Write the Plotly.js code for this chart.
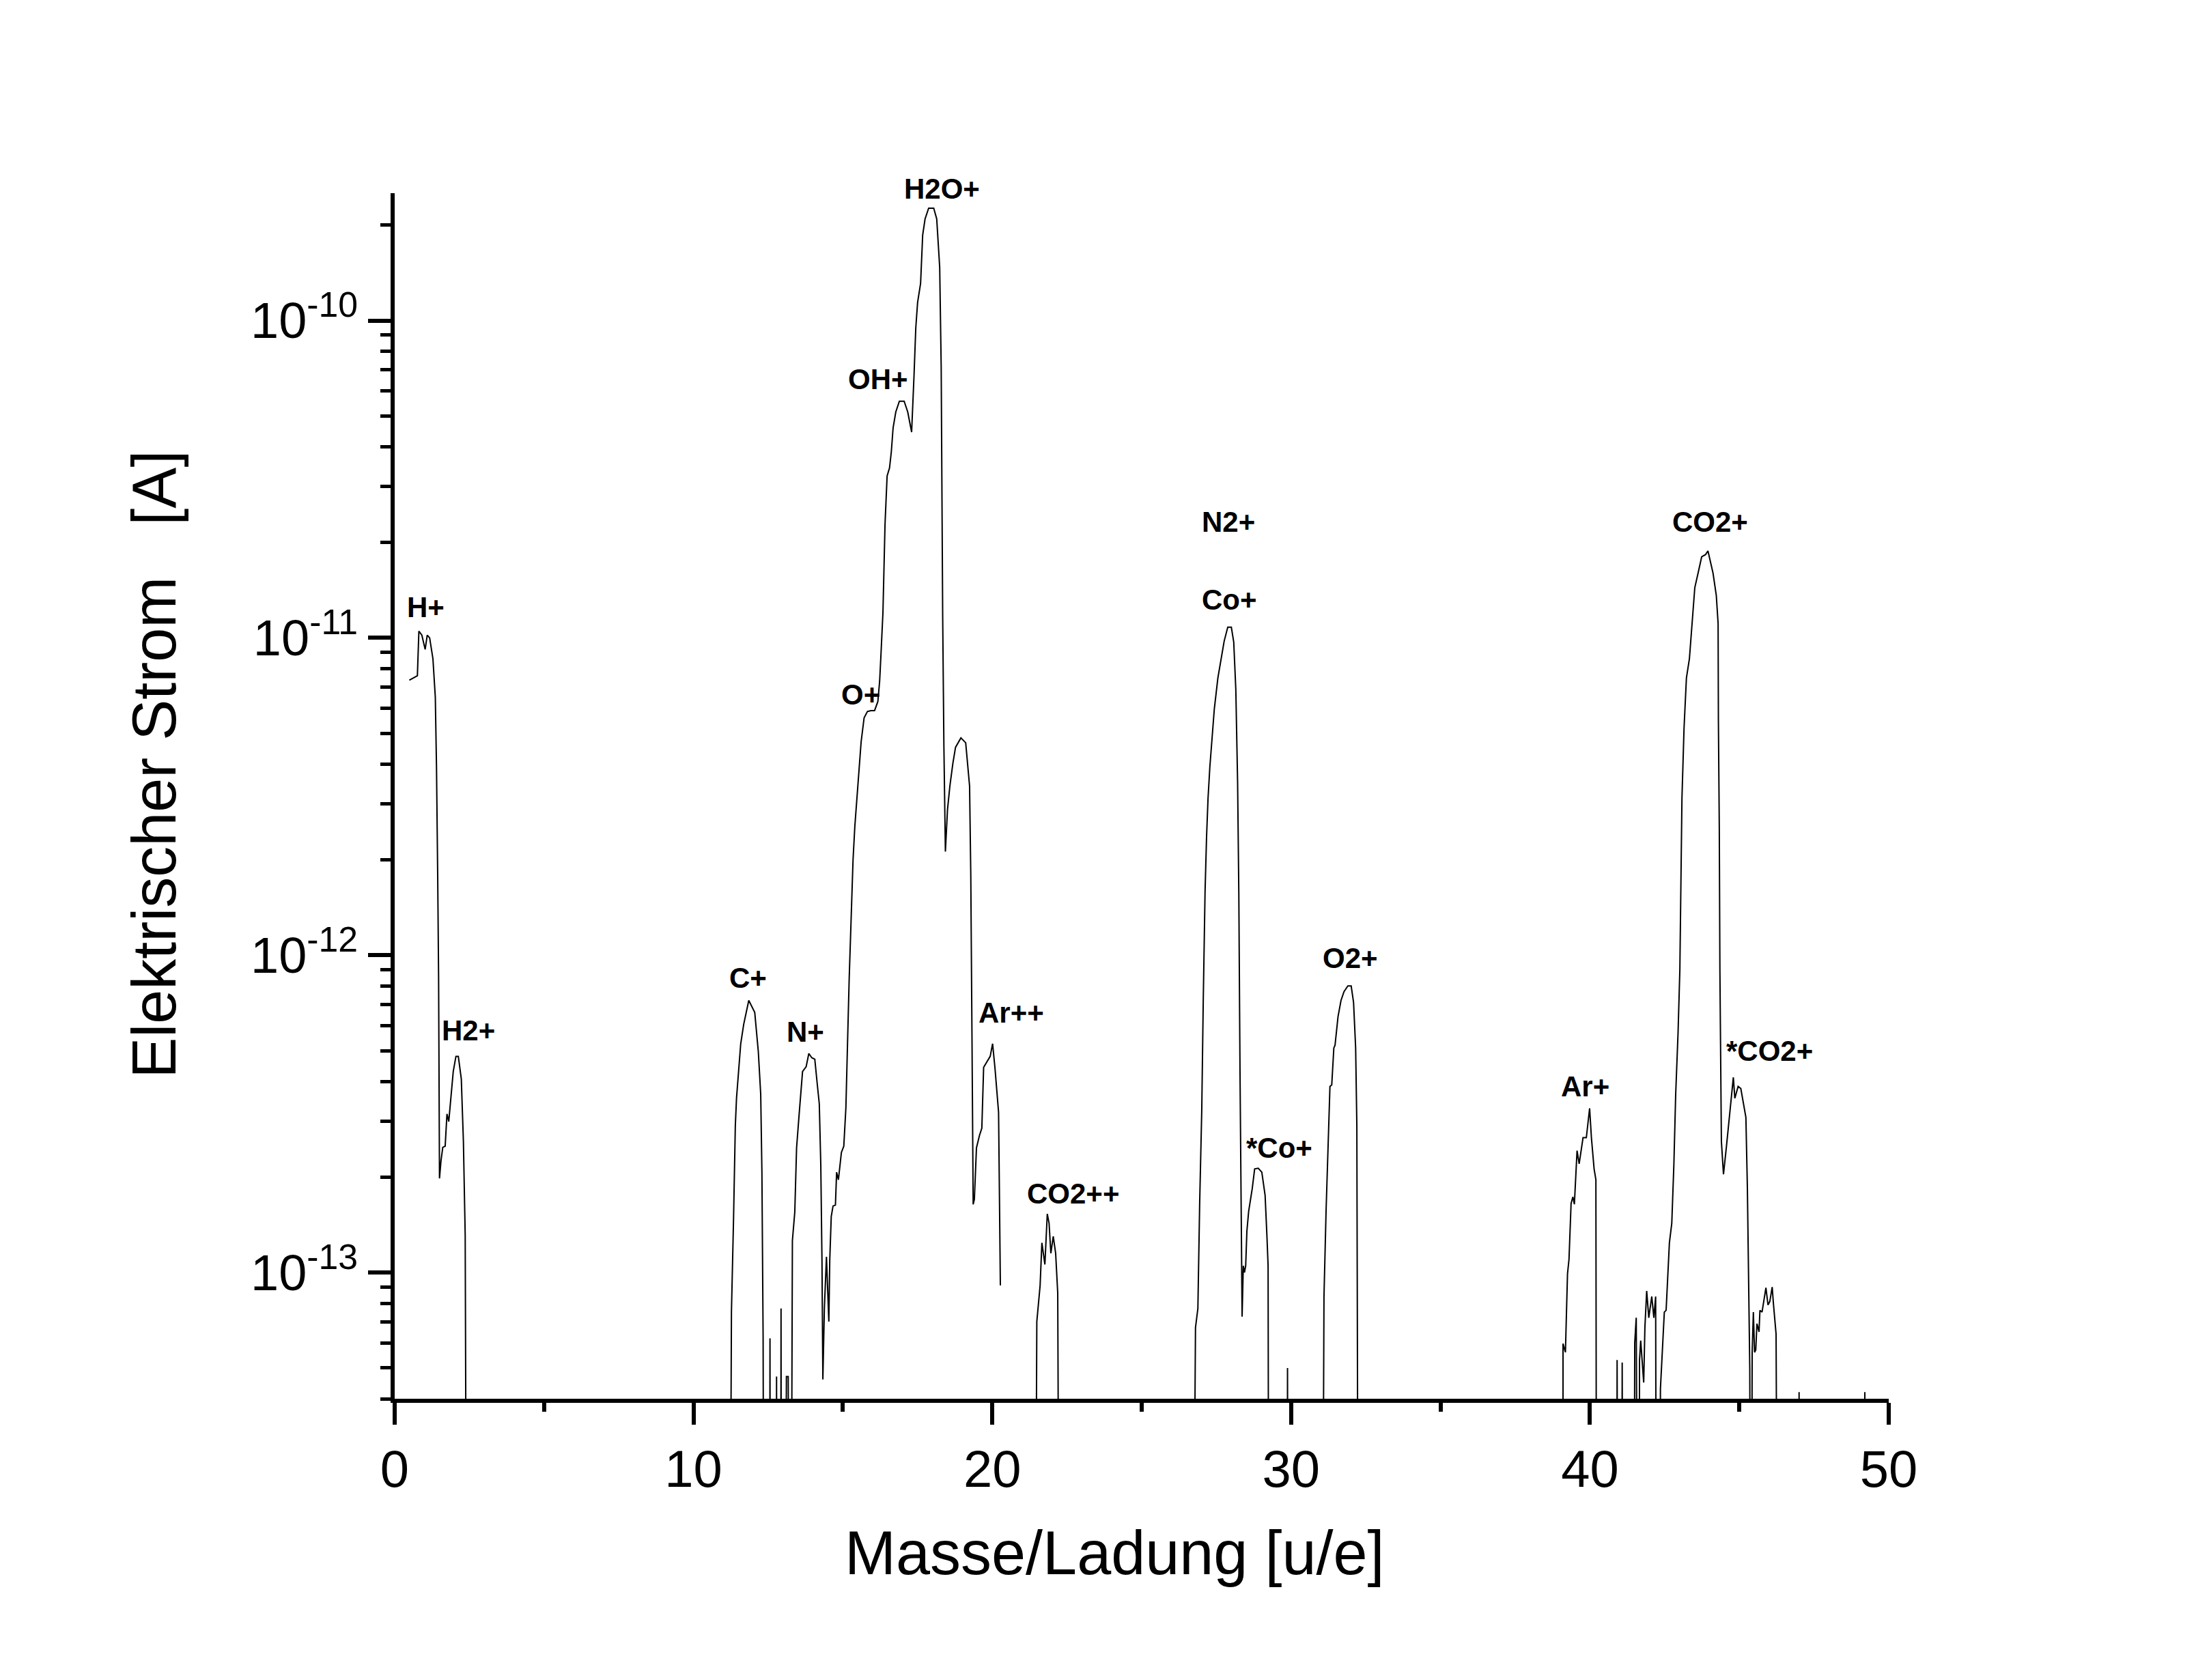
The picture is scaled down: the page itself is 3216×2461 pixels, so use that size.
<!DOCTYPE html>
<html>
<head>
<meta charset="utf-8">
<script src="https://cdn.plot.ly/plotly-3.0.1.min.js"></script>
<style>
  html, body { margin: 0; padding: 0; background: #fff; }
  #chart { width: 3216px; height: 2461px; }
</style>
</head>
<body>
<div id="chart"></div>
<script>
(function () {

	'use strict';

	// 1e-14 = below the detection floor (line drops off the bottom of the axis)

	// H+ / H2+
	const massH = [0.49, 0.64, 0.76, 0.81, 0.91, 1.02, 1.09, 1.17, 1.28, 1.36, 1.40, 1.44, 1.47, 1.50, 1.55, 1.61, 1.69, 1.75, 1.81, 1.96, 2.05, 2.13, 2.23, 2.30, 2.36, 2.40];
	const currH = [7.36e-12, 7.5e-12, 7.6e-12, 1.05e-11, 1.02e-11, 9.2e-12, 1.02e-11, 1.0e-11, 8.6e-12, 6.5e-12, 3.9e-12, 1.77e-12, 8.5e-13, 1.98e-13, 2.25e-13, 2.48e-13, 2.5e-13, 3.16e-13, 2.99e-13, 4.3e-13, 4.8e-13, 4.8e-13, 4.07e-13, 2.59e-13, 1.31e-13, 1e-14];

	// C+ and the small spikes after it
	const massC = [11.23, 11.27, 11.34, 11.40, 11.44, 11.58, 11.68, 11.85, 12.05, 12.17, 12.25, 12.29, 12.33, 12.35,
		12.55, 12.56, 12.57, 12.77, 12.78, 12.79, 12.92, 12.93, 12.94, 13.08, 13.11, 13.17, 13.20];
	const currC = [1e-14, 7.5e-14, 1.47e-13, 2.9e-13, 3.54e-13, 5.25e-13, 6.05e-13, 7.2e-13, 6.6e-13, 4.96e-13, 3.64e-13, 2.07e-13, 6.3e-14, 1e-14,
		1e-14, 6.2e-14, 1e-14, 1e-14, 4.7e-14, 1e-14, 1e-14, 7.7e-14, 1e-14, 1e-14, 4.7e-14, 4.7e-14, 1e-14];

	// N+ , O+ , OH+ , H2O+ , (H3O+) , Ar++
	const massWater = [13.27, 13.31, 13.39, 13.45, 13.53, 13.65, 13.77, 13.86, 13.96, 14.06, 14.14, 14.21, 14.26, 14.30, 14.33,
		14.38, 14.45, 14.49, 14.53, 14.56, 14.61, 14.67, 14.75, 14.79, 14.85, 14.95, 15.03, 15.10, 15.16, 15.21,
		15.28, 15.34, 15.40, 15.46, 15.55, 15.61, 15.71, 15.82, 15.94, 16.06, 16.17, 16.23, 16.27, 16.34, 16.41,
		16.48, 16.56, 16.62, 16.68, 16.77, 16.89, 17.05, 17.17, 17.30, 17.38, 17.44, 17.50, 17.60, 17.67, 17.75,
		17.87, 18.04, 18.14, 18.24, 18.29, 18.31, 18.34, 18.38, 18.43, 18.50, 18.58, 18.68, 18.77, 18.95, 19.11,
		19.24, 19.28, 19.32, 19.36, 19.40, 19.47, 19.57, 19.65, 19.71, 19.81, 19.93, 20.01, 20.09, 20.21, 20.25, 20.27];
	const currWater = [1e-14, 1.26e-13, 1.55e-13, 2.47e-13, 3.1e-13, 4.3e-13, 4.45e-13, 4.9e-13, 4.75e-13, 4.7e-13, 3.94e-13, 3.4e-13, 2.19e-13, 1.09e-13, 4.6e-14,
		7.7e-14, 1.12e-13, 8.6e-14, 7.0e-14, 1.09e-13, 1.5e-13, 1.62e-13, 1.63e-13, 2.07e-13, 1.96e-13, 2.39e-13, 2.5e-13, 3.3e-13, 5.6e-13, 8.4e-13,
		1.34e-12, 2.0e-12, 2.55e-12, 3.03e-12, 4.07e-12, 4.7e-12, 5.6e-12, 5.86e-12, 5.9e-12, 5.9e-12, 6.3e-12, 7.3e-12, 8.7e-12, 1.2e-11, 2.28e-11,
		3.24e-11, 3.43e-11, 3.85e-11, 4.59e-11, 5.15e-11, 5.57e-11, 5.57e-11, 5.15e-11, 4.45e-11, 6.7e-11, 9.5e-11, 1.14e-10, 1.31e-10, 1.86e-10, 2.09e-10,
		2.26e-10, 2.26e-10, 2.09e-10, 1.47e-10, 7.1e-11, 2.79e-11, 1.16e-11, 4.57e-12, 2.12e-12, 2.87e-12, 3.41e-12, 4.02e-12, 4.52e-12, 4.84e-12, 4.67e-12,
		3.41e-12, 1.8e-12, 5.57e-13, 1.64e-13, 1.7e-13, 2.47e-13, 2.7e-13, 2.85e-13, 4.43e-13, 4.6e-13, 4.8e-13, 5.26e-13, 4.4e-13, 3.2e-13, 1.46e-13, 9.1e-14];

	// CO2++
	const massCO2pp = [21.45, 21.49, 21.53, 21.60, 21.66, 21.76, 21.84, 21.90, 21.96, 22.04, 22.12, 22.19, 22.23];
	const currCO2pp = [1e-14, 7.0e-14, 7.7e-14, 9.1e-14, 1.24e-13, 1.06e-13, 1.53e-13, 1.43e-13, 1.15e-13, 1.3e-13, 1.15e-13, 8.6e-14, 1e-14];

	// N2+/CO+ , *CO+ , spike , O2+
	const massN2 = [26.74, 26.80, 26.88, 26.94, 27.01, 27.06, 27.12, 27.17, 27.22, 27.28, 27.35, 27.43, 27.55, 27.66, 27.76,
		27.88, 28.00, 28.08, 28.15, 28.21, 28.25, 28.29, 28.33, 28.36, 28.40, 28.44, 28.48, 28.52, 28.58, 28.70,
		28.78, 28.90, 29.02, 29.13, 29.19, 29.23, 29.25, 29.87, 29.88, 29.89,
		31.06, 31.10, 31.17, 31.25, 31.30, 31.36, 31.43, 31.47, 31.57, 31.67, 31.77, 31.90, 32.01, 32.09, 32.16, 32.20, 32.22, 32.24];
	const currN2 = [1e-14, 6.7e-14, 7.7e-14, 1.65e-13, 3.25e-13, 7.2e-13, 1.58e-12, 2.35e-12, 3.12e-12, 3.91e-12, 4.76e-12, 5.97e-12, 7.48e-12, 8.6e-12, 9.77e-12,
		1.08e-11, 1.08e-11, 9.7e-12, 6.87e-12, 3.49e-12, 1.58e-12, 4.3e-13, 1.47e-13, 7.26e-14, 1.05e-13, 1.0e-13, 1.05e-13, 1.35e-13, 1.56e-13, 1.84e-13,
		2.12e-13, 2.13e-13, 2.07e-13, 1.75e-13, 1.31e-13, 1.05e-13, 1e-14, 1e-14, 5.0e-14, 1e-14,
		1e-14, 8.4e-14, 1.56e-13, 2.75e-13, 3.86e-13, 3.9e-13, 5.1e-13, 5.2e-13, 6.4e-13, 7.2e-13, 7.67e-13, 8.0e-13, 8.0e-13, 7.1e-13, 5.1e-13, 2.9e-13, 9.4e-14, 1e-14];

	// Ar+ , noise , CO2+ , *CO2+ , tail
	const massCO2 = [39.10, 39.10, 39.18, 39.25, 39.30, 39.37, 39.43, 39.48, 39.57, 39.64, 39.77, 39.88, 39.99, 40.05, 40.14, 40.20, 40.22,
		40.90, 40.91, 40.93, 41.07, 41.08, 41.10, 41.48, 41.50, 41.55, 41.59,
		41.65, 41.66, 41.70, 41.74, 41.80, 41.84, 41.90, 41.97, 42.07, 42.14, 42.20, 42.22,
		42.34, 42.36, 42.45, 42.49, 42.55, 42.60, 42.66, 42.74, 42.81, 42.87, 42.95, 43.01, 43.04, 43.08, 43.15, 43.23,
		43.33, 43.41, 43.51, 43.62, 43.74, 43.87, 43.95, 44.12, 44.23, 44.29, 44.30, 44.33, 44.35, 44.40, 44.47,
		44.57, 44.67, 44.74, 44.80, 44.85, 44.96, 45.05, 45.17, 45.22, 45.27, 45.32, 45.35, 45.37,
		45.41, 45.43, 45.47, 45.51, 45.55, 45.59, 45.66, 45.69, 45.76, 45.89, 45.96, 46.02, 46.10, 46.14, 46.23, 46.27,
		46.99, 47.00, 47.01, 49.19, 49.20, 49.21];
	const currCO2 = [1e-14, 5.97e-14, 5.6e-14, 9.9e-14, 1.1e-13, 1.65e-13, 1.73e-13, 1.64e-13, 2.42e-13, 2.2e-13, 2.66e-13, 2.66e-13, 3.29e-13, 2.66e-13, 2.12e-13, 1.96e-13, 1e-14,
		1e-14, 5.3e-14, 1e-14, 1e-14, 5.2e-14, 1e-14, 1e-14, 6.0e-14, 7.2e-14, 1e-14,
		1e-14, 5.3e-14, 6.1e-14, 5.3e-14, 4.5e-14, 6.7e-14, 8.75e-14, 7.2e-14, 8.4e-14, 7.2e-14, 8.4e-14, 1e-14,
		1e-14, 4.3e-14, 6.3e-14, 7.5e-14, 7.6e-14, 9.4e-14, 1.24e-13, 1.43e-13, 2.19e-13, 3.63e-13, 5.7e-13, 9.0e-13, 1.77e-12, 3.12e-12, 5.19e-12, 7.48e-12,
		8.6e-12, 1.08e-11, 1.44e-11, 1.6e-11, 1.8e-11, 1.83e-11, 1.88e-11, 1.6e-11, 1.36e-11, 1.11e-11, 5.48e-12, 2.49e-12, 9.0e-13, 2.59e-13, 2.04e-13,
		2.5e-13, 3.08e-13, 3.54e-13, 4.12e-13, 3.54e-13, 3.86e-13, 3.8e-13, 3.25e-13, 3.08e-13, 1.84e-13, 8.4e-14, 5.0e-14, 1e-14,
		1e-14, 5.6e-14, 7.5e-14, 5.6e-14, 5.7e-14, 6.9e-14, 6.5e-14, 7.6e-14, 7.5e-14, 8.95e-14, 7.9e-14, 8.1e-14, 9.0e-14, 8.0e-14, 6.4e-14, 1e-14,
		1e-14, 4.2e-14, 1e-14, 1e-14, 4.2e-14, 1e-14];

	// peak labels: name, mass, current
	const labelText = ['H+', 'H2+', 'C+', 'N+', 'O+', 'OH+', 'H2O+', 'Ar++', 'CO2++', 'N2+', 'Co+', '*Co+', 'O2+', 'Ar+', 'CO2+', '*CO2+'];
	const labelMass = [1.04, 2.47, 11.83, 13.74, 15.59, 16.18, 18.31, 20.64, 22.71, 27.90, 27.93, 29.61, 31.99, 39.85, 44.02, 46.02];
	const labelCurr = [1.25e-11, 5.78e-13, 8.5e-13, 5.74e-13, 6.64e-12, 6.54e-11, 2.6e-10, 6.6e-13, 1.77e-13, 2.32e-11, 1.32e-11, 2.47e-13, 9.77e-13, 3.86e-13, 2.32e-11, 4.99e-13];

	// y ticks
	const yExp = [-13, -12, -11, -10];

	const font = 'Liberation Sans, Arial, Helvetica, sans-serif';

	// log range of the y axis
	const yLo = Math.log10(4.0e-14);
	const yHi = Math.log10(2.52e-10);

	/**
	* join the pieces, null keeps the gap after Ar++
	*/
	const x = [].concat(massH, [null], massC, massWater, [null], massCO2pp, massN2, massCO2);
	const y = [].concat(currH, [null], currC, currWater, [null], currCO2pp, currN2, currCO2);

	const trace = {
		x, y,
		type: 'scatter',
		mode: 'lines',
		line: { color: '#000', width: 2 },
		connectgaps: false,
		hoverinfo: 'skip'
	};

	// minor log ticks 2..9 per decade
	const minorVals = [];
	for (let e = -14; e <= -10; e++) {
		for (let m = 2; m <= 9; m++) minorVals.push(m * Math.pow(10, e));
	}

	// y as paper fraction so labels above the axis top (H2O+) still show
	const labels = labelText.map((t, i) => ({
		text: t,
		x: labelMass[i],
		y: (Math.log10(labelCurr[i]) - yLo) / (yHi - yLo),
		xref: 'x', yref: 'paper',
		showarrow: false,
		xanchor: 'center', yanchor: 'middle',
		font: { family: font, size: 42, color: '#000', weight: 700 }
	}));

	// axis titles as paper annotations
	labels.push({
		text: 'Masse/Ladung [u/e]',
		x: 0.482, y: -0.128, xref: 'paper', yref: 'paper',
		showarrow: false, xanchor: 'center', yanchor: 'middle',
		font: { family: font, size: 90, color: '#000' }
	});
	labels.push({
		text: 'Elektrischer Strom\u00a0\u00a0\u00a0[A]',
		x: -0.161, y: 0.526, xref: 'paper', yref: 'paper',
		textangle: -90,
		showarrow: false, xanchor: 'center', yanchor: 'middle',
		font: { family: font, size: 90, color: '#000' }
	});

	const layout = {
		width: 3216,
		height: 2461,
		margin: { l: 578, r: 450, t: 283, b: 412, pad: 0 },
		paper_bgcolor: '#fff',
		plot_bgcolor: '#fff',
		showlegend: false,
		font: { family: font, color: '#000' },
		xaxis: {
			range: [0, 50],
			tickmode: 'array',
			tickvals: [0, 10, 20, 30, 40, 50],
			ticks: 'outside',
			ticklen: 32,
			tickwidth: 6,
			tickcolor: '#000',
			showline: true,
			linewidth: 6,
			linecolor: '#000',
			showgrid: false,
			zeroline: false,
			tickfont: { family: font, size: 76, color: '#000' },
			minor: { tickmode: 'linear', tick0: 5, dtick: 10, ticks: 'outside', ticklen: 13, tickwidth: 6, tickcolor: '#000', showgrid: false }
		},
		yaxis: {
			type: 'log',
			range: [yLo, yHi],
			tickmode: 'array',
			tickvals: yExp.map(e => Math.pow(10, e)),
			ticktext: yExp.map(e => '10<sup>-' + Math.abs(e) + '</sup>'),
			ticks: 'outside',
			ticklen: 33,
			tickwidth: 6,
			tickcolor: '#000',
			showline: true,
			linewidth: 6,
			linecolor: '#000',
			showgrid: false,
			zeroline: false,
			tickfont: { family: font, size: 74, color: '#000' },
			minor: { tickmode: 'array', tickvals: minorVals, ticks: 'outside', ticklen: 15, tickwidth: 5, tickcolor: '#000', showgrid: false }
		},
		annotations: labels
	};

	Plotly.newPlot('chart', [trace], layout, { displayModeBar: false, staticPlot: true });

})();
</script>
</body>
</html>
